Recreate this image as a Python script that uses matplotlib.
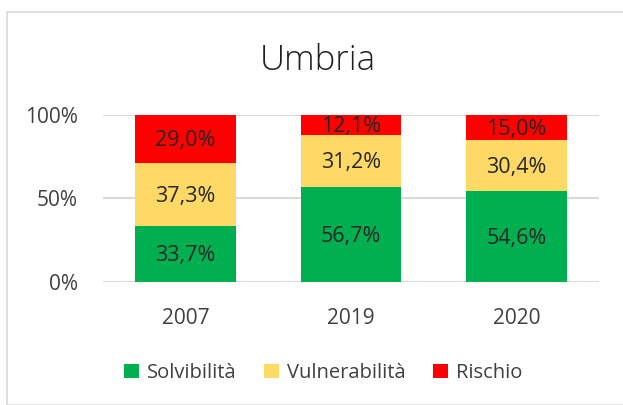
import matplotlib.pyplot as plt
from matplotlib.patches import Rectangle

years = ['2007', '2019', '2020']
solvibilita = [33.7, 56.7, 54.6]
vulnerabilita = [37.3, 31.2, 30.4]
rischio = [29.0, 12.1, 15.0]
series = ['Solvibilità', 'Vulnerabilità', 'Rischio']
colori = ['#00B050', '#FFD966', '#FF0000']

plt.rcParams['font.family'] = ['Open Sans', 'DejaVu Sans']

W, H = 623, 405
fig = plt.figure(figsize=(W / 100, H / 100), dpi=100)

# bordo grigio del grafico
fig.patches.append(Rectangle((7 / W, 0), 1, 1 - 12 / H, transform=fig.transFigure,
                             fill=False, edgecolor='#D9D9D9', linewidth=1.2))

ax = fig.add_axes([103 / W, (H - 282) / H, (599 - 103) / W, (282 - 115) / H])

x = range(len(years))
bottom = [0, 0, 0]
for vals, nome, col in zip([solvibilita, vulnerabilita, rischio], series, colori):
    bars = ax.bar(x, vals, 0.61, bottom=bottom, color=col, label=nome, zorder=3)
    for b, v, bt in zip(bars, vals, bottom):
        ax.text(b.get_x() + b.get_width() / 2, bt + v / 2 - 1, f'{v:.1f}%'.replace('.', ','),
                ha='center', va='center', fontsize=15.5, color='#262626', zorder=4)
    bottom = [a + c for a, c in zip(bottom, vals)]

ax.set_xlim(-0.5, 2.5)
ax.set_ylim(0, 100)
ax.set_yticks([0, 50, 100])
ax.set_yticklabels(['0%', '50%', '100%'])
ax.set_xticks(list(x))
ax.set_xticklabels(years)
ax.tick_params(axis='y', length=0, pad=18, labelsize=15, labelcolor='#404040')
ax.tick_params(axis='x', length=0, pad=19, labelsize=15, labelcolor='#404040')
for s in ax.spines.values():
    s.set_visible(False)
ax.yaxis.grid(True, color='#D9D9D9', linewidth=1.5, zorder=0)
ax.set_axisbelow(True)

fig.text(318 / W, 1 - 61 / H, 'Umbria', ha='center', va='center', fontsize=25,
         fontweight='light', color='#202020')

fig.legend(loc='center', bbox_to_anchor=(323 / W, 1 - 373 / H), ncol=3, frameon=False,
           fontsize=14.5, handlelength=0.75, handleheight=0.75, handletextpad=0.4,
           columnspacing=1.35, labelcolor='#404040')

fig.savefig('out.png', dpi=100)
